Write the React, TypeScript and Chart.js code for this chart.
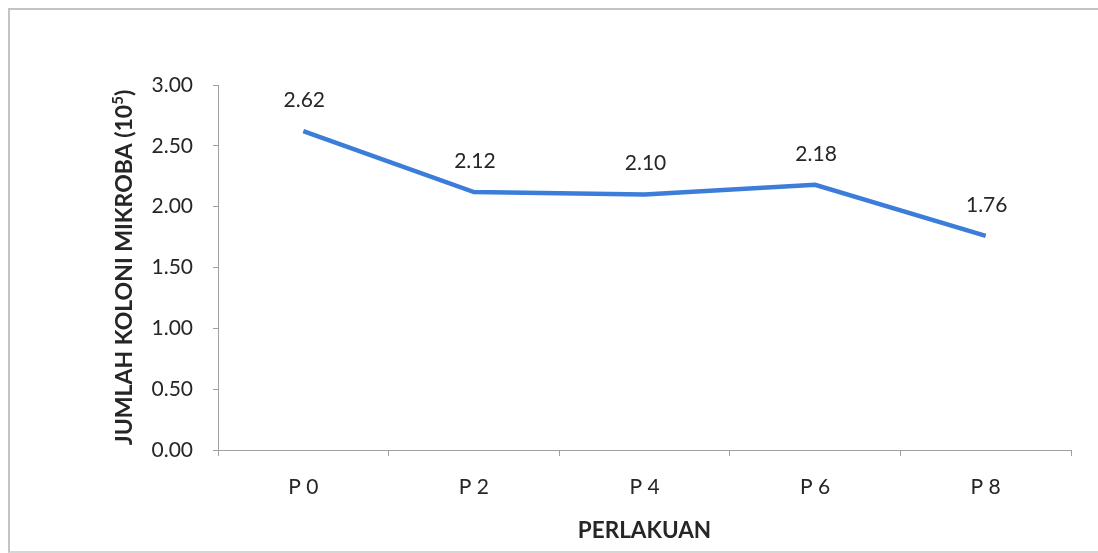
import React, { useEffect, useRef } from "react";
import { Chart, registerables } from "chart.js";

Chart.register(...registerables);

const categories = ["P 0", "P 2", "P 4", "P 6", "P 8"];
const values = [2.62, 2.12, 2.1, 2.18, 1.76];
const yTicks = [0, 0.5, 1, 1.5, 2, 2.5, 3];
const yTitleMain = "JUMLAH KOLONI MIKROBA (10";
const yTitleSup = "5";
const yTitleEnd = ")";
const xTitle = "PERLAKUAN";

const FONT = "Lato, 'Open Sans', sans-serif";
const TEXT = "#262626";
const AXIS = "#a0a0a0";
const LINE = "#3b7dd8";

const overlay = {
  id: "overlay",
  afterDatasetsDraw(chart: any) {
    const ctx = chart.ctx;
    const meta = chart.getDatasetMeta(0);
    ctx.save();
    ctx.fillStyle = TEXT;
    ctx.font = `21px ${FONT}`;
    ctx.textAlign = "center";
    ctx.textBaseline = "middle";
    meta.data.forEach((pt: any, i: number) => {
      ctx.fillText(values[i].toFixed(2), pt.x + 1, pt.y - 31);
    });
    ctx.restore();
  },
  afterDraw(chart: any) {
    const ctx = chart.ctx;
    const area = chart.chartArea;
    ctx.save();
    ctx.fillStyle = TEXT;
    // x title
    ctx.font = `bold 22.5px ${FONT}`;
    ctx.textAlign = "center";
    ctx.textBaseline = "middle";
    ctx.fillText(xTitle, (area.left + area.right) / 2, area.bottom + 81);
    // y title with superscript
    const cy = (area.top + area.bottom) / 2;
    const cx = 115;
    ctx.translate(cx, cy);
    ctx.rotate(-Math.PI / 2);
    ctx.textAlign = "left";
    ctx.textBaseline = "middle";
    const mainFont = `bold 23px ${FONT}`;
    const supFont = `bold 15px ${FONT}`;
    ctx.font = mainFont;
    const w1 = ctx.measureText(yTitleMain).width;
    const w3 = ctx.measureText(yTitleEnd).width;
    ctx.font = supFont;
    const w2 = ctx.measureText(yTitleSup).width;
    const total = w1 + w2 + w3;
    let x = -total / 2;
    ctx.font = mainFont;
    ctx.fillText(yTitleMain, x, 0);
    x += w1;
    ctx.font = supFont;
    ctx.fillText(yTitleSup, x, -7);
    x += w2;
    ctx.font = mainFont;
    ctx.fillText(yTitleEnd, x, 0);
    ctx.restore();
  },
};

export default function App() {
  const ref = useRef<HTMLCanvasElement>(null);
  useEffect(() => {
    if (!ref.current) return;
    const chart = new Chart(ref.current, {
      type: "line",
      data: {
        labels: categories,
        datasets: [
          {
            data: values,
            borderColor: LINE,
            borderWidth: 4.5,
            pointRadius: 0,
            tension: 0,
            fill: false,
          },
        ],
      },
      options: {
        animation: false,
        responsive: true,
        maintainAspectRatio: false,
        layout: { padding: { top: 75, right: 27, bottom: 0, left: 0 } },
        plugins: {
          legend: { display: false },
          tooltip: { enabled: false },
        },
        scales: {
          x: {
            type: "category",
            offset: true,
            grid: {
              offset: true,
              drawOnChartArea: false,
              drawTicks: true,
              tickLength: 6,
              color: AXIS,
            },
            border: { display: true, color: AXIS, width: 1 },
            ticks: {
              color: TEXT,
              font: { family: FONT, size: 21 },
              padding: 19,
              maxRotation: 0,
            },
            afterFit(scale: any) {
              scale.height = 101;
            },
          },
          y: {
            min: 0,
            max: 3,
            afterBuildTicks(scale: any) {
              scale.ticks = yTicks.map((v) => ({ value: v }));
            },
            grid: {
              drawOnChartArea: false,
              drawTicks: true,
              tickLength: 5,
              color: AXIS,
            },
            border: { display: true, color: AXIS, width: 1 },
            ticks: {
              color: TEXT,
              font: { family: FONT, size: 21 },
              padding: 20,
              callback: (v: any) => Number(v).toFixed(2),
            },
            afterFit(scale: any) {
              scale.width = 208;
            },
          },
        },
      },
      plugins: [overlay],
    });
    return () => chart.destroy();
  }, []);

  return (
    <div
      style={{
        position: "absolute",
        top: 8,
        left: 8,
        width: 1090,
        height: 545,
        boxSizing: "border-box",
        borderTop: "2px solid #c4c4c4",
        borderLeft: "2px solid #c4c4c4",
        borderBottom: "2px solid #d6d6d6",
        background: "#ffffff",
      }}
    >
      <canvas ref={ref} />
    </div>
  );
}
